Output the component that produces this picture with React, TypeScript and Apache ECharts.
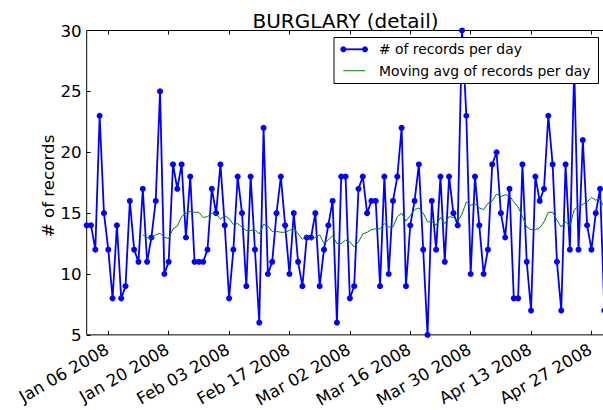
import React, { useEffect, useRef } from "react";
import * as echarts from "echarts";

// Daily burglary counts, one per day starting 2008-01-01
const START_DATE = "2008-01-01";
const COUNTS = [
  14, 14, 12, 23, 15, 12, 8, 14, 8, 9, 16, 12, 11, 17, 11, 13, 16, 25, 10, 11,
  19, 17, 19, 13, 18, 11, 11, 11, 12, 17, 15, 19, 14, 8, 12, 18, 15, 9, 18, 12,
  6, 22, 10, 11, 15, 18, 14, 10, 15, 11, 9, 13, 13, 15, 9, 12, 14, 16, 6, 18,
  18, 8, 9, 17, 18, 15, 16, 16, 9, 18, 10, 16, 18, 22, 9, 14, 16, 19, 12, 5,
  16, 12, 18, 11, 18, 15, 14, 30, 23, 10, 18, 14, 10, 12, 19, 20, 15, 13, 17, 8,
  8, 19, 11, 7, 18, 16, 17, 23, 19, 11, 7, 19, 12, 27, 12, 21, 14, 12, 15, 17,
  7,
];
const WINDOW = 14;
const TICK_DATES = [
  "2008-01-06", "2008-01-20", "2008-02-03", "2008-02-17", "2008-03-02",
  "2008-03-16", "2008-03-30", "2008-04-13", "2008-04-27",
];
const TICK_LABELS = [
  "Jan 06 2008", "Jan 20 2008", "Feb 03 2008", "Feb 17 2008", "Mar 02 2008",
  "Mar 16 2008", "Mar 30 2008", "Apr 13 2008", "Apr 27 2008",
];
const Y_TICKS = [5, 10, 15, 20, 25, 30];
const TITLE = "BURGLARY (detail)";
const Y_NAME = "# of records";
const LEGEND_NAMES = ["# of records per day", "Moving avg of records per day"];

const FONT = "DejaVu Sans";
const DAY = 86400000;

export default function App() {
  const ref = useRef<HTMLDivElement>(null);
  useEffect(() => {
    if (!ref.current) return;
    const chart = echarts.init(ref.current, null, { renderer: "svg" });
    const start = Date.parse(START_DATE);
    const dailyData = COUNTS.map((v, i) => [start + i * DAY, v]);
    const maData: number[][] = [];
    for (let i = WINDOW - 1; i < COUNTS.length; i++) {
      let s = 0;
      for (let j = i - WINDOW + 1; j <= i; j++) s += COUNTS[j];
      maData.push([start + i * DAY, s / WINDOW]);
    }
    const tickVals = TICK_DATES.map((d) => Date.parse(d));
    const labelFor = (v: number) => {
      const k = tickVals.findIndex((t) => Math.abs(t - v) < DAY / 2);
      return k >= 0 ? TICK_LABELS[k] : "";
    };
    const xMin = start;
    const xMax = start + (COUNTS.length - 1) * DAY;

    const legX = 334;
    const legY = 37.5;
    const hx1 = 343.3;
    const hx2 = 365;
    const r1 = 49.3;
    const r2 = 70.7;

    chart.setOption({
      animation: false,
      backgroundColor: "#fff",
      grid: {
        left: 86.7,
        right: 1.6,
        top: 30.5,
        bottom: 67.7,
        show: true,
        borderColor: "#000",
        borderWidth: 1,
        backgroundColor: "transparent",
      },
      xAxis: [
        {
          type: "value",
          min: xMin,
          max: xMax,
          position: "bottom",
          axisLine: { show: false },
          splitLine: { show: false },
          axisTick: {
            show: true,
            inside: true,
            length: 4,
            customValues: tickVals,
            lineStyle: { color: "#000", width: 1 },
          },
          axisLabel: {
            show: true,
            customValues: tickVals,
            formatter: (v: number) => labelFor(v),
            rotate: 30,
            align: "right",
            verticalAlign: "top",
            padding: [0, 6, 0, 0],
            margin: 3,
            fontSize: 16.7,
            fontFamily: FONT,
            color: "#000",
          },
        },
        {
          type: "value",
          min: xMin,
          max: xMax,
          position: "top",
          axisLine: { show: false },
          splitLine: { show: false },
          axisTick: {
            show: true,
            inside: true,
            length: 4,
            customValues: tickVals,
            lineStyle: { color: "#000", width: 1 },
          },
          axisLabel: { show: false },
        },
      ],
      yAxis: {
        type: "value",
        min: Y_TICKS[0],
        max: Y_TICKS[Y_TICKS.length - 1],
        interval: 5,
        axisLine: { show: false },
        splitLine: { show: false },
        axisTick: {
          show: true,
          inside: true,
          length: 4,
          lineStyle: { color: "#000", width: 1 },
        },
        axisLabel: {
          margin: 5,
          fontSize: 16.7,
          fontFamily: FONT,
          color: "#000",
        },
      },
      series: [
        {
          name: LEGEND_NAMES[0],
          type: "line",
          data: dailyData,
          symbol: "circle",
          symbolSize: 6,
          showAllSymbol: true,
          lineStyle: { color: "#0000ff", width: 1.8 },
          itemStyle: { color: "#0000ff" },
          z: 3,
        },
        {
          name: LEGEND_NAMES[1],
          type: "line",
          data: maData,
          symbol: "none",
          lineStyle: { color: "#008000", width: 1 },
          z: 4,
        },
      ],
      graphic: [
        {
          type: "text",
          x: 345.5,
          y: 21,
          z: 100,
          style: {
            text: TITLE,
            align: "center",
            verticalAlign: "middle",
            fontSize: 20,
            fontFamily: FONT,
            fill: "#000",
          },
        },
        {
          type: "text",
          x: 48,
          y: 186,
          rotation: Math.PI / 2,
          z: 100,
          style: {
            text: Y_NAME,
            align: "center",
            verticalAlign: "middle",
            fontSize: 16.7,
            fontFamily: FONT,
            fill: "#000",
          },
        },
        {
          type: "rect",
          z: 100,
          shape: { x: legX, y: legY, width: 264.5, height: 46 },
          style: { fill: "#fff", stroke: "#000", lineWidth: 1 },
        },
        {
          type: "line",
          z: 101,
          shape: { x1: hx1, y1: r1, x2: hx2, y2: r1 },
          style: { stroke: "#0000ff", lineWidth: 1.8 },
        },
        {
          type: "circle",
          z: 102,
          shape: { cx: hx1, cy: r1, r: 3 },
          style: { fill: "#0000ff" },
        },
        {
          type: "circle",
          z: 102,
          shape: { cx: hx2, cy: r1, r: 3 },
          style: { fill: "#0000ff" },
        },
        {
          type: "line",
          z: 101,
          shape: { x1: hx1, y1: r2, x2: hx2, y2: r2 },
          style: { stroke: "#008000", lineWidth: 1 },
        },
        {
          type: "text",
          x: 379,
          y: r1,
          z: 101,
          style: {
            text: LEGEND_NAMES[0],
            verticalAlign: "middle",
            fontSize: 13.9,
            fontFamily: FONT,
            fill: "#000",
          },
        },
        {
          type: "text",
          x: 379,
          y: r2,
          z: 101,
          style: {
            text: LEGEND_NAMES[1],
            verticalAlign: "middle",
            fontSize: 13.9,
            fontFamily: FONT,
            fill: "#000",
          },
        },
      ],
    });
    return () => chart.dispose();
  }, []);
  return (
    <div
      style={{
        position: "absolute",
        left: 0,
        top: 0,
        width: 603,
        height: 410,
        overflow: "hidden",
      }}
    >
      <div ref={ref} style={{ width: 606, height: 410 }} />
    </div>
  );
}
